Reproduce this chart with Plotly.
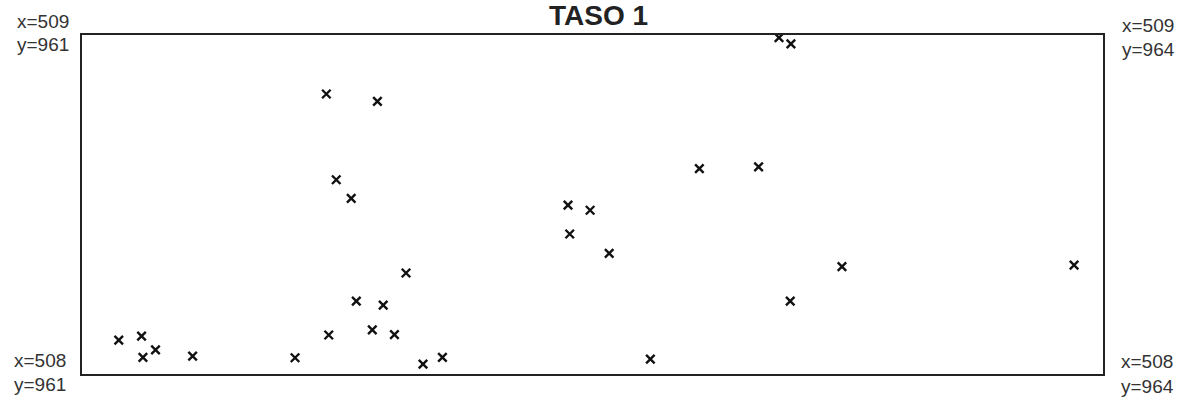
import plotly.graph_objects as go

# Point coordinates (y = east, horizontal; x = north, vertical)
east = [961.108, 961.175, 961.179, 961.216, 961.325, 961.626, 961.718, 961.725,
        961.747, 961.791, 961.806, 961.853, 961.868, 961.885, 961.918, 961.952,
        962.002, 962.059, 962.428, 962.433, 962.493, 962.549, 962.670, 962.814,
        962.988, 963.048, 963.083, 963.081, 963.233, 963.915]
north = [508.100, 508.112, 508.049, 508.071, 508.053, 508.048, 508.826, 508.115,
         508.573, 508.518, 508.215, 508.130, 508.804, 508.203, 508.116, 508.298,
         508.029, 508.049, 508.498, 508.413, 508.483, 508.356, 508.044, 508.606,
         508.611, 508.992, 508.974, 508.215, 508.317, 508.321]

title = "TASO 1"
east_range = [961, 964]
north_range = [508, 509]
corner_labels = {
    "tl": ("x=509", "y=961"),
    "tr": ("x=509", "y=964"),
    "bl": ("x=508", "y=961"),
    "br": ("x=508", "y=964"),
}

W, H = 1194, 403
L, R, T, B = 82, 91, 35, 29
PW, PH = W - L - R, H - T - B

def px_x(p):
    return (p - L) / PW

def px_y(p):
    return (H - B - p) / PH

fig = go.Figure()
fig.add_trace(go.Scatter(
    x=east, y=north, mode="markers",
    marker=dict(symbol="x-thin", size=8.5, line=dict(width=2.4, color="#111111"),
                color="#111111"),
    hoverinfo="skip", showlegend=False,
))

font = dict(family="Liberation Sans, Arial, sans-serif", size=19, color="#333333")
ann = []
def lab(text, xp, yp, anchor):
    ann.append(dict(text=text, xref="paper", yref="paper", x=px_x(xp), y=px_y(yp),
                    xanchor=anchor, yanchor="middle", showarrow=False, font=font))

tl, tr, bl, br = corner_labels["tl"], corner_labels["tr"], corner_labels["bl"], corner_labels["br"]
lab(tl[0], 71, 21, "right"); lab(tl[1], 71, 44.5, "right")
lab(tr[0], 1120, 25, "left"); lab(tr[1], 1120, 49, "left")
lab(bl[0], 68, 360, "right"); lab(bl[1], 68, 385, "right")
lab(br[0], 1119, 361.5, "left"); lab(br[1], 1119, 386.5, "left")

ann.append(dict(text="<b>" + title + "</b>", xref="paper", yref="paper",
                x=px_x(598.5), y=px_y(15.5), xanchor="center", yanchor="middle",
                showarrow=False,
                font=dict(family="Liberation Sans, Arial, sans-serif", size=28, color="#222222")))

axis_common = dict(showgrid=False, zeroline=False, showticklabels=False, ticks="",
                   showline=True, mirror=True, linewidth=2, linecolor="#222222")
fig.update_layout(
    width=W, height=H, autosize=False,
    margin=dict(l=L, r=R, t=T, b=B),
    paper_bgcolor="white", plot_bgcolor="white",
    xaxis=dict(range=east_range, **axis_common),
    yaxis=dict(range=north_range, **axis_common),
    annotations=ann,
)

fig.write_html("out.html", config={"displayModeBar": False},
               post_script="document.body.style.margin='0';")
